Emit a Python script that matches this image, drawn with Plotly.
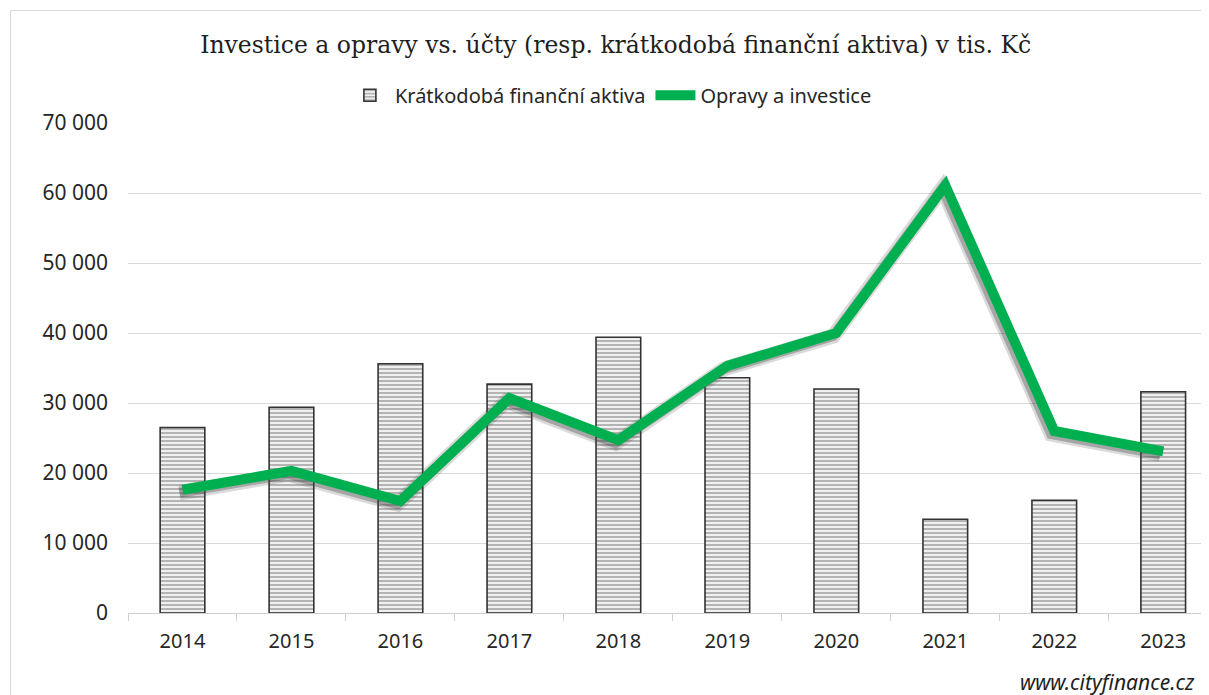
import plotly.graph_objects as go

years = ["2014", "2015", "2016", "2017", "2018", "2019", "2020", "2021", "2022", "2023"]
aktiva = [26500, 29400, 35600, 32700, 39400, 33600, 32000, 13400, 16100, 31600]
opravy = [17600, 20300, 16000, 30700, 24700, 35300, 40000, 61100, 26000, 23100]

# the page body adds an 8px margin, so the figure is 8px smaller than the window
OFF = 8
W, H = 1209 - OFF, 695 - OFF
SH = 3  # shadow offset in px
L, R, T, B = 128 - OFF - SH, 0, 123 - OFF, 695 - 613 - SH
pw, ph = W - L - R, H - T - B

def px_x(p):
    return (p - OFF - L) / pw

def px_y(p):
    return (H - B - (p - OFF)) / ph

fig = go.Figure()

fig.add_trace(go.Bar(
    x=years, y=aktiva, name="Krátkodobá finanční aktiva",
    width=0.41,
    marker=dict(color="#f2f2f2",
                line=dict(color="#333333", width=1.6),
                pattern=dict(shape="-", fgcolor="#5a5a5a", bgcolor="#f0f0f0",
                             size=4, solidity=0.4, fillmode="overlay")),
    xaxis="x", yaxis="y",
))

# soft shadow of the line, drawn on a slightly offset hidden subplot
fig.add_trace(go.Scatter(
    x=years, y=opravy, mode="lines", showlegend=False, hoverinfo="skip",
    line=dict(color="rgba(70,70,70,0.2)", width=15),
    xaxis="x2", yaxis="y2",
))
fig.add_trace(go.Scatter(
    x=years, y=opravy, mode="lines", showlegend=False, hoverinfo="skip",
    line=dict(color="rgba(70,70,70,0.35)", width=10),
    xaxis="x2", yaxis="y2",
))

fig.add_trace(go.Scatter(
    x=years, y=opravy, name="Opravy a investice", mode="lines",
    line=dict(color="#00b050", width=10),
    xaxis="x3", yaxis="y3",
))

ax, ay = SH / pw, SH / ph
xr = [-0.5, 9.42]
fig.update_layout(
    width=W, height=H,
    margin=dict(l=L, r=R, t=T, b=B),
    paper_bgcolor="white", plot_bgcolor="rgba(0,0,0,0)",
    separators=". ",
    font=dict(family="Noto Sans, Liberation Sans, sans-serif", color="#262626", size=20),
    title=dict(text="Investice a opravy vs. účty (resp. krátkodobá finanční aktiva) v tis. Kč",
               x=0.506, xanchor="center", xref="container",
               y=0.946, yanchor="middle", yref="container",
               font=dict(family="DejaVu Serif, serif", size=23.5, color="#1e1e1e")),
    legend=dict(orientation="h", x=0.502, xanchor="center", xref="container",
                y=0.873, yanchor="middle", yref="container",
                font=dict(size=20, color="#262626"), itemwidth=40,
                traceorder="normal"),
    xaxis=dict(type="category", range=xr, tickson="boundaries",
               ticks="outside", ticklen=7, tickcolor="#d0d0d0",
               showline=True, linecolor="#d0d0d0", linewidth=1,
               showgrid=False, tickfont=dict(size=20, color="#262626"),
               ticklabelstandoff=10,
               domain=[ax, 1], anchor="y", automargin=False),
    yaxis=dict(range=[0, 70000], dtick=10000, tickformat=",d",
               showgrid=True, gridcolor="#d9d9d9", gridwidth=1,
               zeroline=False, showline=False, ticks="",
               ticklabelstandoff=19,
               tickfont=dict(size=21, color="#262626"),
               domain=[ay, 1], anchor="x", automargin=False),
    xaxis2=dict(type="category", range=xr, visible=False,
                domain=[0, 1 - ax], anchor="y2"),
    yaxis2=dict(range=[0, 70000], visible=False,
                domain=[0, 1 - ay], anchor="x2"),
    xaxis3=dict(type="category", range=xr, visible=False,
                domain=[ax, 1], anchor="y3"),
    yaxis3=dict(range=[0, 70000], visible=False,
                domain=[ay, 1], anchor="x3"),
    shapes=[dict(type="rect", xref="paper", yref="paper",
                 x0=px_x(10.5), x1=px_x(1260), y0=px_y(10.5), y1=px_y(760),
                 line=dict(color="#d9d9d9", width=1), layer="below")],
    annotations=[dict(text="<i>www.cityfinance.cz</i>", xref="paper", yref="paper",
                      x=px_x(1197), y=px_y(682), xanchor="right", yanchor="middle",
                      showarrow=False,
                      font=dict(size=21, color="#1e1e1e", family="Noto Sans, sans-serif"))],
)

fig.write_html("out.html")
